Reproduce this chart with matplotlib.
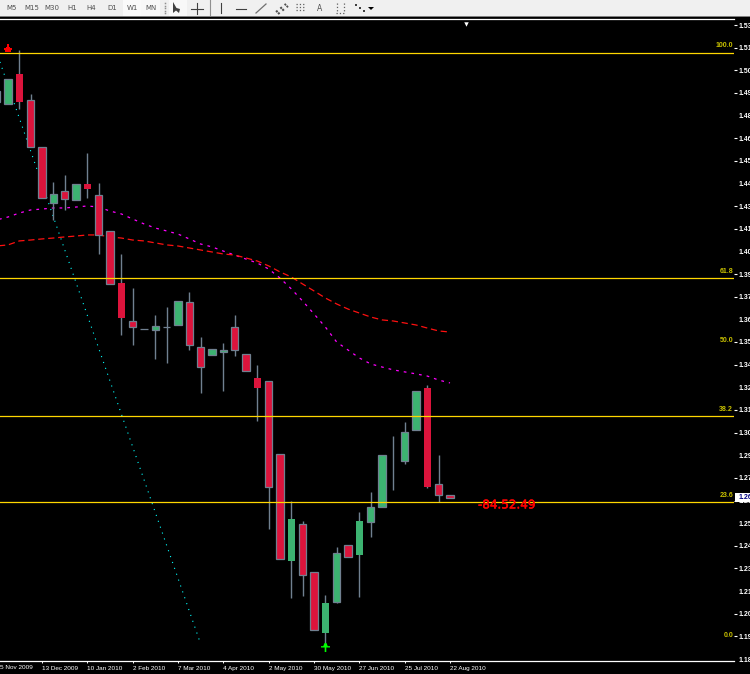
import numpy as np
import matplotlib
matplotlib.use("Agg")
import matplotlib.pyplot as plt
import matplotlib.patheffects as pe
from matplotlib.path import Path

W, H = 750, 674
TOP, BOTTOM, RIGHT = 19, 661, 734

bars = list(range(-1, 40))
open_ = [1.4875,1.4866,1.5028,1.4884,1.4627,1.4319,1.4382,1.4336,1.4422,1.4360,1.4161,1.3874,1.3664,1.3620,1.3618,1.3631,1.3646,1.3769,1.3521,1.3480,1.3497,1.3633,1.3484,1.3351,1.3335,1.2932,1.2343,1.2545,1.2279,1.1945,1.2115,1.2428,1.2376,1.2557,1.2639,np.nan,1.2895,1.3064,1.3294,1.2764,1.2704]
close = [1.4936,1.5002,1.4873,1.4627,1.4347,1.4367,1.4341,1.4421,1.4395,1.4141,1.3872,1.3684,1.3635,1.3620,1.3637,1.3631,1.3775,1.3535,1.3414,1.3510,1.3506,1.3508,1.3390,1.3296,1.2751,1.2354,1.2573,1.2266,1.1962,1.2109,1.2384,1.2365,1.2560,1.2639,1.2925,np.nan,1.3053,1.3278,1.2751,1.2707,1.2690]
high  = [1.4936,1.5002,1.5162,1.4919,1.4627,1.4433,1.4472,1.4421,1.4593,1.4428,1.4161,1.4036,1.3848,1.3620,1.3699,1.3743,1.3775,1.3826,1.3578,1.3510,1.3545,1.3699,1.3484,1.3423,1.3335,1.2932,1.2672,1.2562,1.2279,1.2153,1.2419,1.2428,1.2612,1.2722,1.2925,1.3031,1.3109,1.3278,1.3313,1.2926,1.2704]
low   = [1.4875,1.4866,1.4836,1.4627,1.4347,1.4224,1.4279,1.4336,1.4345,1.4036,1.3872,1.3589,1.3534,1.3620,1.3456,1.3434,1.3646,1.3506,1.3270,1.3480,1.3280,1.3473,1.3390,1.3114,1.2518,1.2354,1.2137,1.2148,1.1962,1.1888,1.2109,1.2365,1.2142,1.2474,1.2639,1.2733,1.2877,1.3064,1.2744,1.2667,1.2690]

ma_magenta = [1.4224,1.4240,1.4262,1.4279,1.4284,1.4290,1.4290,1.4295,1.4301,1.4295,1.4273,1.4257,1.4229,1.4202,1.4179,1.4163,1.4146,1.4119,1.4091,1.4075,1.4052,1.4030,1.4008,1.3986,1.3953,1.3903,1.3843,1.3776,1.3705,1.3633,1.3550,1.3506,1.3462,1.3429,1.3412,1.3396,1.3385,1.3374,1.3362,1.3340,1.3324]
ma_red = [1.4080,1.4086,1.4108,1.4113,1.4119,1.4124,1.4130,1.4135,1.4141,1.4141,1.4130,1.4124,1.4113,1.4108,1.4097,1.4086,1.4080,1.4069,1.4058,1.4047,1.4036,1.4030,1.4014,1.3997,1.3970,1.3937,1.3909,1.3870,1.3832,1.3793,1.3760,1.3732,1.3710,1.3688,1.3672,1.3666,1.3655,1.3644,1.3627,1.3611,1.3605]

trend_x = [-0.71, 16.94]
trend_y = [1.5096, 1.1894]

fib_pct = ["100.0", "61.8", "50.0", "38.2", "23.6", "0.0"]
fib_price = [1.5148, 1.3903, 1.3520, 1.3142, 1.2664, 1.1890]
fib_drawn = [1.5148, 1.3903, 1.3142, 1.2664]

y_ticks = [1.5300,1.5175,1.5050,1.4925,1.4800,1.4675,1.4550,1.4425,1.4300,1.4175,1.4050,1.3925,1.3800,1.3675,1.3550,1.3425,1.3300,1.3175,1.3050,1.2925,1.2800,1.2675,1.2550,1.2425,1.2300,1.2175,1.2050,1.1925,1.1800]
y_labels = ["1.53","1.51","1.50","1.49","1.48","1.46","1.45","1.44","1.43","1.41","1.40","1.39","1.37","1.36","1.35","1.34","1.32","1.31","1.30","1.29","1.27","1.26","1.25","1.24","1.23","1.21","1.20","1.19","1.18"]
first_label = "5 Nov 2009"
x_ticks = [3, 7, 11, 15, 19, 23, 27, 31, 35, 39]
x_labels = ["13 Dec 2009","10 Jan 2010","2 Feb 2010","7 Mar 2010","4 Apr 2010","2 May 2010","30 May 2010","27 Jun 2010","25 Jul 2010","22 Aug 2010"]
timeframes = ["M5","M15","M30","H1","H4","D1","W1","MN"]

last_price = 1.2692
countdown = "-84.52.49"
arrow_down = (0, 1.5173)
arrow_up = (28, 1.1867)

UP, DOWN, EDGE = "#3CB371", "#DC143C", "#708090"
GOLD = "#FFD700"
NO_EDGE = {1, 7, 10, 22, 25, 28, 31, 37}
BAR_PX = 11.333
SMALL = "Liberation Sans"

fig = plt.figure(figsize=(W / 100, H / 100), dpi=100, facecolor="black")
ax = fig.add_axes([0, 1 - BOTTOM / H, RIGHT / W, (BOTTOM - TOP) / H], facecolor="black")

for sp in ("left", "right"):
    ax.spines[sp].set_visible(False)
for sp in ("top", "bottom"):
    ax.spines[sp].set_color("white")
    ax.spines[sp].set_linewidth(0.9)

# trend line and moving averages
ax.plot(trend_x, trend_y, color="#00FFFF", lw=0.8, ls=(0, (1, 4.6)), zorder=1)
ax.plot(bars, ma_magenta, color="#FF00FF", lw=0.9, ls=(0, (2.2, 4)), zorder=1)
ax.plot(bars, ma_red, color="#FF1010", lw=0.9, ls=(0, (5, 3)), zorder=1)

# candles
for i, o, c, h, l in zip(bars, open_, close, high, low):
    if h > l:
        ax.plot([i, i], [l, h], color=EDGE, lw=1.0, zorder=2, solid_capstyle="butt")
    if np.isnan(o):
        continue
    col = UP if c > o else DOWN
    if i in NO_EDGE:
        ax.bar(i, abs(c - o), bottom=min(o, c), width=0.62, color=col, lw=0, zorder=3)
    else:
        ax.bar(i, abs(c - o), bottom=min(o, c), width=0.64, color=col,
               edgecolor=EDGE, lw=0.9, zorder=3)

# axes ticks
ax.yaxis.tick_right()
ax.set_yticks(y_ticks)
ax.set_yticklabels(y_labels, color="white", fontsize=5.0, family=SMALL, fontweight="bold")
ax.tick_params(axis="y", length=1.8, width=0.8, color="white", pad=1.8)
for k, t in enumerate(ax.yaxis.get_major_ticks()):
    if k >= 4 and k % 3 == 1:
        t.tick2line.set_visible(False)
ax.set_xticks(x_ticks)
ax.set_xticklabels(x_labels, color="white", fontsize=4.6, ha="left", family=SMALL)
ax.tick_params(axis="x", length=1.5, width=0.7, color="white", pad=2.2)
fig.text(0, 1 - 667.5 / H, first_label, color="white", fontsize=4.6, family=SMALL, va="center", ha="left")

# limits come after the ticks, because set_xticks widens the view to hold every tick
ax.set_xlim(-8 / BAR_PX, (RIGHT - 8) / BAR_PX)
ax.set_ylim(1.53 - (BOTTOM - 25) * 0.35 / 634, 1.53 + (25 - TOP) * 0.35 / 634)

# Fibonacci levels
for p in fib_drawn:
    ax.axhline(p, color=GOLD, lw=0.9, zorder=4)
xr = ax.get_xlim()[1] - 1 / BAR_PX
for lab, p in zip(fib_pct, fib_price):
    ax.annotate(lab, (xr, p), xytext=(0, 2.4), textcoords="offset points", ha="right", va="bottom",
                color="#C8C000", fontsize=5.0, family=SMALL, fontweight="bold", zorder=5)

# arrows
down = Path([(-0.2, 1), (0.2, 1), (0.2, 0.2), (0.5, 0.2), (0.5, -0.1), (1, -0.1), (1, -0.4), (0.6, -0.4),
             (0.6, -1), (-0.6, -1), (-0.6, -0.4), (-1, -0.4), (-1, -0.1), (-0.5, -0.1), (-0.5, 0.2), (-0.2, 0.2), (-0.2, 1)])
ax.plot(*arrow_down, marker=down, ms=6.3, color="#FF0000", mew=0, zorder=6, clip_on=False)
up = Path([(-0.18, -1), (0.18, -1), (0.18, 0.0), (1, 0.0), (1, 0.3), (0.5, 0.3), (0.2, 1), (-0.2, 1),
           (-0.5, 0.3), (-1, 0.3), (-1, 0.0), (-0.18, 0.0), (-0.18, -1)])
ax.plot(*arrow_up, marker=up, ms=6.5, color="#00FF00", mew=0, zorder=6, clip_on=False)

# countdown
ax.annotate(countdown, (39, last_price), xytext=(28 * 0.72, -7.5 * 0.72), textcoords="offset points",
            ha="left", va="center", color="#FF0000", fontsize=8.6, zorder=6,
            path_effects=[pe.withStroke(linewidth=0.35, foreground="#FF0000")])

# current price box
fig.patches.append(plt.Rectangle((735 / W, 1 - 502 / H), 15 / W, 9 / H, transform=fig.transFigure,
                                 facecolor="white", edgecolor="none", zorder=8))
fig.text(739 / W, 1 - 497.5 / H, "1.26", color="#000080", fontsize=5.0, family=SMALL, fontweight="bold",
         va="center", zorder=9)

# small shift marker on the top border
ax.plot((466 - 8) / BAR_PX, 1.5305, marker="v", ms=3.2, color="white", mew=0, zorder=6, clip_on=False)

# toolbar
tb = fig.add_axes([0, 1 - 17 / H, 1, 17 / H], facecolor="#F0F0F0")
tb.set_xlim(0, W)
tb.set_ylim(17, 0)
tb.axis("off")
tb.add_patch(plt.Rectangle((0, 0), W, 16, color="#F0F0F0", lw=0))
tb.add_patch(plt.Rectangle((0, 16), W, 1, color="#808080", lw=0))
tb.add_patch(plt.Rectangle((123, 0), 18, 15.5, color="#FAFAFA", lw=0))
tb.add_patch(plt.Rectangle((141, 0), 19, 15.5, color="#F8F8F8", lw=0))
tb.add_patch(plt.Rectangle((169, 0), 18, 15.5, color="#F8F8F8", lw=0))
for lab, x in zip(timeframes, [12, 32, 52, 72, 91, 112, 132, 151]):
    tb.text(x, 8.5, lab, ha="center", va="center", fontsize=5, color="#505050")
tb.plot([164.5] * 5, [3, 5.5, 8, 10.5, 13], ls="none", marker="s", ms=1.1, color="#909090", mew=0)
tb.add_patch(plt.Polygon([(173, 2), (173, 13), (176, 10.5), (179, 13), (180, 9), (176.5, 8)], color="#404040", lw=0))
tb.plot([191, 203], [8.5, 8.5], color="#404040", lw=0.8)
tb.plot([197, 197], [3, 14], color="#404040", lw=0.8)
tb.plot([209.5, 209.5], [0, 15], color="#909090", lw=0.8)
tb.plot([221, 221], [3, 13], color="#404040", lw=0.8)
tb.plot([236, 246], [8.5, 8.5], color="#404040", lw=0.8)
tb.plot([256, 266], [13, 4], color="#707070", lw=0.9)
tb.plot([276, 286], [12, 4], color="#505050", lw=1.5, ls=":")
tb.plot([278, 288], [14, 6], color="#505050", lw=1.5, ls=":")
for yy in (4, 7, 10):
    tb.plot([296, 305], [yy, yy], color="#606060", lw=0.9, ls=":")
tb.text(320, 8.5, "A", ha="center", va="center", fontsize=5.5, color="#505050")
tb.plot([336.5, 336.5], [3, 13], color="#606060", lw=0.9, ls=":")
tb.plot([343.5, 343.5], [3, 13], color="#606060", lw=0.9, ls=":")
tb.plot([336, 344], [13, 13], color="#606060", lw=0.9, ls=":")
tb.plot([356, 360, 364], [5, 8, 11], ls="none", marker="s", ms=2, color="#404040", mew=0)
tb.add_patch(plt.Polygon([(368, 7), (374, 7), (371, 10)], color="black", lw=0))

fig.savefig("out.png", dpi=100, facecolor="black")
